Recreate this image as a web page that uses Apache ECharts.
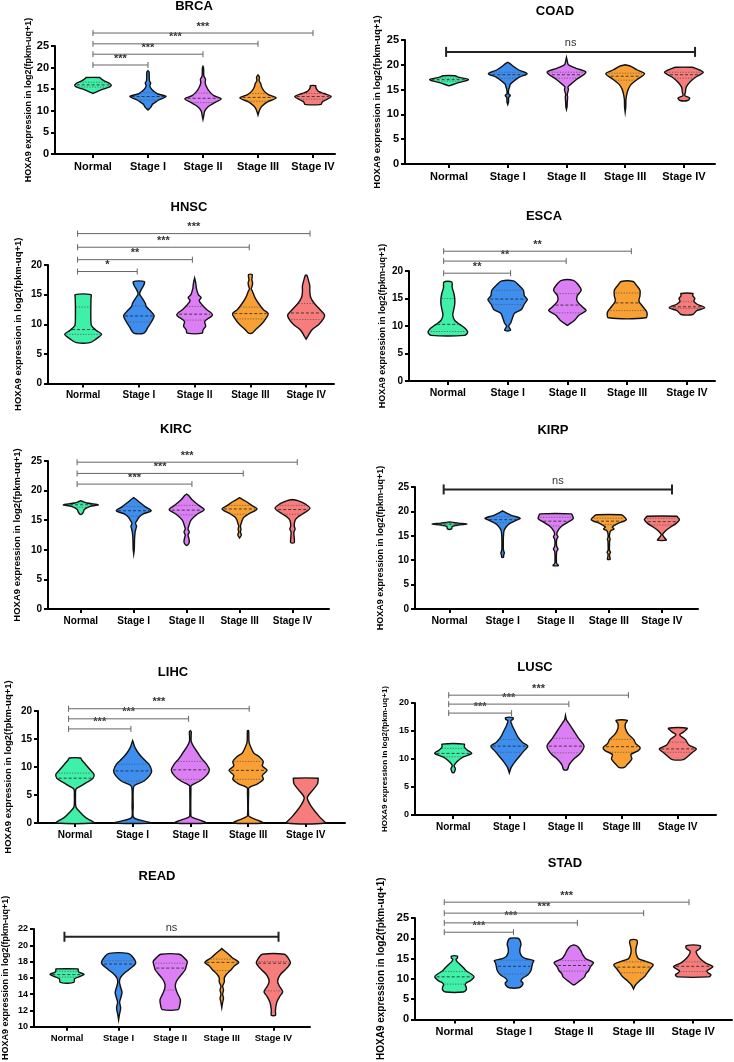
<!DOCTYPE html>
<html>
<head>
<meta charset="utf-8">
<script src="https://cdn.jsdelivr.net/npm/echarts@6/dist/echarts.min.js"></script>
<style>
html, body { margin: 0; padding: 0; background: #fff; }
#main { width: 734px; height: 1062px; }
</style>
</head>
<body>
<div id="main"></div>
<script>
const categories = ['Normal', 'Stage I', 'Stage II', 'Stage III', 'Stage IV'];
const groupColors = ['#3ef0a8', '#3e8ef0', '#dc7ef4', '#f8a034', '#f77c7c'];

// violin profiles: [value, relative half width] bottom -> top, one per group
const brcaViolins = [
  [[14,0],[14.4,0.2],[15,0.55],[15.6,0.95],[16,1],[16.5,0.85],[17,0.6],[17.5,0.42],[17.7,0.38]],
  [[10.2,0],[10.8,0.15],[11.5,0.25],[11.8,0.35],[12.5,0.6],[13.3,1],[14,0.5],[15,0.2],[15.8,0.1],[16.4,0.15],[17,0.08],[18,0.07],[19,0.06],[19.3,0]],
  [[8,0],[9,0.05],[10,0.1],[11,0.3],[12,0.7],[12.8,1],[13.5,0.6],[14.5,0.35],[15.5,0.2],[16.5,0.12],[17.3,0.14],[18,0.05],[19,0.04],[20,0.03],[20.3,0]],
  [[9,0],[9.6,0.04],[10.3,0.1],[11,0.2],[12,0.5],[13,1],[13.7,0.6],[14.5,0.35],[15.5,0.2],[16.3,0.15],[17,0.06],[17.8,0.08],[18.3,0]],
  [[11.5,0.45],[12,0.5],[12.5,0.7],[13.3,1],[14,0.6],[14.5,0.3],[15,0.2],[15.5,0.15],[15.8,0.15]]
];
const brcaQuartiles = [[15.5,16,16.6],[12.5,13.3,14.2],[11.9,12.9,14.1],[12.2,13.1,14],[12.7,13.3,14]];
const brcaSig = [[0,1,20.6,'***'],[0,2,23.1,'***'],[0,3,25.5,'***'],[0,4,28,'***']];

const coadViolins = [
  [[15.8,0.05],[16.3,0.4],[17,1],[17.5,0.5],[17.8,0.3]],
  [[12,0],[12.5,0.04],[13.4,0.05],[13.8,0.13],[14.2,0.04],[15,0.05],[15.6,0.1],[16,0.12],[16.5,0.25],[17.5,0.6],[18.2,1],[19,0.55],[19.8,0.25],[20.3,0.1],[20.5,0]],
  [[11,0],[11.5,0.03],[12.5,0.04],[13.5,0.06],[14,0.04],[15,0.1],[15.5,0.08],[16,0.2],[17,0.5],[18.5,1],[19.3,0.5],[20,0.1],[21,0.03],[21.5,0]],
  [[10.5,0],[11.5,0.03],[13,0.04],[14,0.08],[15,0.15],[16,0.3],[17,0.6],[18.2,1],[19,0.6],[19.7,0.3],[20,0]],
  [[12.8,0.2],[13.3,0.3],[13.8,0.05],[14.5,0.08],[15.5,0.12],[16.5,0.3],[17.5,0.6],[18.5,1],[19.3,0.6],[19.5,0.4]]
];
const coadQuartiles = [[16.7,17,17.3],[17.3,18,18.5],[17.3,18,18.5],[16.9,17.7,18.3],[17.3,18,18.5]];
const coadSig = [[-0.05,4.19,22.6,'ns']];

const hnscViolins = [
  [[6.9,0.37],[7.5,0.7],[8.3,1],[9,0.7],[9.8,0.45],[11,0.42],[13,0.42],[14.5,0.43],[15,0.43]],
  [[8.5,0.28],[9.5,0.5],[10.5,0.7],[11.4,0.83],[12,0.7],[13,0.4],[13.5,0.35],[14.3,0.2],[15,0.05],[15.3,0.05],[15.8,0.12],[16.5,0.25],[17.2,0.3]],
  [[8.5,0.42],[9,0.45],[9.7,0.6],[10.5,0.55],[11.6,0.97],[12.5,0.65],[13.3,0.4],[14,0.25],[14.5,0.35],[15,0.2],[16,0.1],[17,0.06],[17.8,0]],
  [[8.5,0.1],[9,0.25],[10,0.6],[11,0.85],[11.8,0.97],[12.5,0.7],[13.5,0.45],[14.5,0.25],[15.5,0.12],[16,0.05],[16.5,0.1],[17,0.12],[17.5,0.08],[18,0.1],[18.4,0.1]],
  [[7.5,0],[8,0.1],[9,0.3],[10,0.7],[11,0.95],[11.6,1],[12.5,0.75],[13.5,0.45],[14.5,0.25],[15.5,0.2],[16.5,0.2],[17.5,0.12],[18.2,0.05],[18.3,0]]
];
const hnscQuartiles = [[8.3,9.1,12.9],[10.4,11.4,13.1],[10.7,11.7,13],[10.9,11.8,12.9],[10.8,11.9,13.5]];
const hnscSig = [[-0.1,0.97,18.9,'*'],[-0.1,1.96,20.9,'**'],[-0.1,2.98,23,'***'],[-0.1,4.07,25.3,'***']];

const escaViolins = [
  [[8.3,0.85],[8.8,1],[9.5,0.9],[10.3,0.6],[11,0.35],[12,0.25],[13,0.3],[14,0.35],[15,0.35],[16,0.3],[17,0.22],[18,0.2]],
  [[9.2,0.15],[10,0.05],[10.5,0.15],[11.5,0.25],[12.3,0.35],[13,0.7],[14,0.85],[14.8,1],[15.5,0.85],[16.5,0.8],[17.5,0.55],[18.2,0.3]],
  [[10.1,0],[11,0.35],[12,0.6],[12.8,0.95],[13.5,0.75],[14.5,0.5],[15.5,0.5],[16.5,0.7],[17.5,0.55],[18.3,0.3]],
  [[11.5,0.95],[12.5,1],[13.5,0.8],[14.5,0.6],[15.5,0.65],[16.5,0.65],[17.5,0.45],[18.1,0.3]],
  [[12.1,0.3],[12.8,0.5],[13.3,0.9],[14,0.5],[14.5,0.35],[15,0.4],[15.5,0.3],[15.9,0.3]]
];
const escaQuartiles = [[9,10.3,15],[13.9,14.9,16.5],[12.4,13.8,15.9],[12.8,14.2,16],[13.2,13.5,14.4]];
const escaSig = [[-0.07,1.05,19.6,'**'],[-0.07,1.98,21.8,'**'],[-0.07,3.07,23.6,'**']];

const kircViolins = [
  [[16,0.05],[16.4,0.15],[16.8,0.2],[17.3,0.5],[17.6,1],[17.9,0.35],[18.2,0.08],[18.3,0]],
  [[9.3,0],[10,0.03],[11,0.04],[12,0.05],[13,0.08],[13.5,0.12],[14,0.16],[14.5,0.1],[15,0.2],[15.5,0.3],[16,0.5],[16.6,1],[17.3,0.65],[18,0.35],[18.5,0.15],[18.8,0]],
  [[10.8,0.05],[11.3,0.15],[12,0.12],[12.5,0.08],[13,0.15],[13.5,0.08],[14,0.12],[15,0.25],[16,0.6],[16.8,1],[17.5,0.7],[18.5,0.3],[19.2,0.1],[19.4,0]],
  [[12,0],[12.5,0.1],[13,0.05],[13.5,0.08],[14,0.05],[14.5,0.1],[15,0.15],[15.5,0.25],[16,0.5],[16.9,1],[17.5,0.7],[18.2,0.35],[18.8,0]],
  [[11.2,0.1],[12,0.1],[13,0.08],[13.5,0.15],[14,0.1],[15,0.15],[15.5,0.3],[16,0.55],[17,1],[17.7,0.75],[18.3,0.3],[18.5,0]]
];
const kircQuartiles = [[17.2,17.6,17.9],[15.7,16.6,17.3],[15.9,16.7,17.5],[16,16.9,17.5],[16,16.8,17.5]];
const kircSig = [[-0.07,2.1,21.1,'***'],[-0.07,3.07,22.9,'***'],[-0.07,4.09,24.8,'***']];

const kirpViolins = [
  [[16.4,0.12],[16.9,0.15],[17.2,0.5],[17.4,1],[17.6,0.5],[17.8,0.1]],
  [[10.6,0.05],[11,0.06],[11.5,0.1],[12,0.05],[13,0.04],[14,0.04],[15,0.05],[16,0.08],[16.8,0.2],[17.5,0.4],[18.2,0.8],[18.6,1],[19.2,0.5],[19.8,0.15],[20.1,0]],
  [[8.9,0.15],[9.4,0.05],[10,0.04],[11,0.04],[11.8,0.06],[12.3,0.13],[12.8,0.06],[13.5,0.04],[14.3,0.06],[14.8,0.13],[15.3,0.06],[16,0.12],[17,0.35],[17.8,0.7],[18.5,1],[19.2,0.95],[19.5,0.9]],
  [[10.2,0.08],[10.7,0.05],[11.3,0.05],[11.6,0.1],[12,0.04],[13,0.04],[14,0.05],[14.3,0.08],[14.7,0.04],[15.5,0.05],[16,0.1],[16.4,0.3],[16.8,0.2],[17.5,0.5],[18.3,1],[19,0.85],[19.3,0.7]],
  [[14.1,0.25],[14.6,0.15],[15.2,0.04],[15.5,0.08],[16,0.2],[16.8,0.5],[17.5,0.8],[18.3,1],[18.8,0.9],[19,0.85]]
];
const kirpQuartiles = [[17.2,17.4,17.6],[17.7,18.3,18.9],[17,18,18.8],[17.3,18,18.6],[17.2,17.9,18.6]];
const kirpSig = [[-0.11,4.19,24.5,'ns']];

const lihcViolins = [
  [[0,1],[0.5,0.8],[1,0.55],[2,0.25],[2.8,0.06],[3.5,0.03],[5,0.03],[6,0.05],[6.5,0.25],[7.2,0.6],[8,0.95],[8.7,1],[9.5,0.8],[10.5,0.55],[11.3,0.35],[11.6,0.3]],
  [[0,0.95],[0.5,0.4],[1,0.05],[3,0.03],[6,0.03],[6.7,0.1],[7.5,0.6],[8.5,0.9],[9.3,1],[10.5,0.85],[11.5,0.55],[12.5,0.3],[13.5,0.12],[14.2,0.05],[14.7,0]],
  [[0,0.85],[0.5,0.5],[1,0.1],[1.3,0.03],[6,0.03],[6.7,0.05],[7.5,0.5],[8.5,0.85],[9.5,1],[10.5,0.85],[11.5,0.6],[12.5,0.4],[13.5,0.2],[14.5,0.05],[15.5,0.04],[16.3,0.05],[16.5,0]],
  [[0,0.8],[0.5,0.5],[1,0.15],[1.3,0.03],[5.5,0.03],[6.3,0.05],[7,0.5],[7.8,0.8],[8.5,0.75],[9.4,1],[10.2,0.75],[11,0.8],[11.8,0.6],[12.5,0.3],[13.5,0.15],[14.5,0.05],[16.5,0.03]],
  [[0,1],[1,0.75],[2,0.5],[3,0.28],[4,0.12],[4.5,0.08],[5,0.15],[6,0.4],[7,0.62],[7.8,0.65],[8,0.65]]
];
const lihcQuartiles = [[null,8,8.9],[7.5,9.3,10.5],[7.8,9.5,11],[7.8,9.4,11],null];
const lihcSig = [[-0.11,0.97,16.8,'***'],[-0.11,1.97,18.6,'***'],[-0.11,3.02,20.4,'***']];

const luscViolins = [
  [[7.6,0.05],[8,0.1],[8.3,0.12],[8.8,0.05],[9.5,0.2],[10.3,0.5],[11,1],[11.6,0.75],[12.2,0.6],[12.65,0.6]],
  [[7.5,0],[8.5,0.1],[9.5,0.3],[10.5,0.55],[11.5,0.8],[12.3,1],[13,0.7],[14,0.45],[15,0.3],[16,0.15],[16.8,0.08],[17.1,0.2],[17.4,0.2]],
  [[8.1,0.1],[9,0.2],[10,0.45],[11,0.8],[12.3,1],[13.5,0.75],[14.5,0.55],[15.5,0.35],[16.5,0.15],[17,0.05],[17.8,0]],
  [[8.5,0.15],[9,0.3],[10,0.55],[10.8,0.5],[11.5,0.9],[12,1],[12.8,0.75],[13.5,0.65],[14.5,0.35],[15.5,0.2],[16.3,0.2],[16.9,0.3]],
  [[9.9,0.3],[10.5,0.55],[11.2,0.8],[11.8,1],[12.5,0.6],[13.5,0.4],[14.3,0.1],[14.8,0.3],[15.5,0.5]]
];
const luscQuartiles = [[10.4,11,11.9],[11.2,12.3,13.5],[11.1,12.3,13.7],[11.2,12.2,13.5],[11.2,11.8,13]];
const luscSig = [[-0.08,1.04,18.2,'***'],[-0.08,2.06,19.8,'***'],[-0.08,3.12,21.4,'***']];

const readViolins = [
  [[15.45,0.4],[15.9,0.45],[16.2,0.8],[16.45,1],[16.7,0.7],[17,0.65],[17.1,0.65]],
  [[10.85,0],[11.5,0.05],[12.3,0.12],[13,0.06],[13.5,0.12],[14.2,0.2],[15,0.1],[15.5,0.05],[16,0.1],[16.5,0.3],[17,0.6],[17.8,1],[18.5,0.85],[19,0.55]],
  [[12.1,0.47],[12.5,0.55],[13.3,0.6],[14,0.45],[14.5,0.35],[15,0.3],[15.5,0.35],[16,0.5],[16.5,0.7],[17,0.88],[17.5,0.95],[18,1],[18.5,0.8],[18.9,0.55]],
  [[12.35,0],[13,0.05],[13.5,0.1],[14,0.05],[14.5,0.1],[15,0.05],[15.5,0.15],[16,0.15],[16.5,0.3],[17,0.55],[17.5,0.75],[17.9,1],[18.5,0.6],[19,0.35],[19.5,0.05],[19.6,0]],
  [[11.4,0.12],[12,0.12],[13,0.2],[13.8,0.4],[14.3,0.55],[15,0.35],[15.5,0.25],[16,0.3],[16.5,0.45],[17,0.7],[17.8,1],[18.5,0.85],[18.9,0.65]]
];
const readQuartiles = [[16.1,16.4,16.8],[15.9,17.7,18.1],[14.5,17.2,17.8],[16.9,17.9,18.3],[14.4,17.8,18.0]];
const readSig = [[-0.05,4.1,21.05,'ns']];

const stadViolins = [
  [[6.75,0.45],[7.3,0.6],[8,0.6],[8.5,0.55],[9,0.6],[9.5,0.8],[10.5,1],[11.2,0.85],[12,0.6],[12.8,0.45],[13.5,0.3],[14.2,0.15],[14.8,0.08],[15.1,0.15],[15.6,0.15]],
  [[7.8,0.25],[8.3,0.4],[9,0.45],[9.5,0.35],[10.2,0.45],[11,0.7],[12,0.85],[13,0.9],[14,0.95],[14.5,1],[15,0.6],[15.5,0.4],[16.5,0.3],[17.5,0.3],[18.5,0.35],[19.5,0.3],[20,0.2]],
  [[8.6,0.05],[9.5,0.3],[10.5,0.55],[11.2,0.6],[12,0.75],[13,0.85],[14,1],[15,0.6],[16,0.45],[17,0.35],[18,0.2],[18.3,0.05]],
  [[7.5,0],[8.5,0.1],[9.5,0.3],[10.5,0.55],[11.5,0.7],[12.5,0.85],[13.5,1],[14.2,0.7],[15,0.25],[16,0.15],[17,0.12],[18,0.15],[19,0.2],[19.6,0.15]],
  [[10.5,0.8],[11,0.9],[11.5,0.75],[12,0.7],[13,1],[14,0.6],[15,0.35],[16,0.2],[16.8,0.15],[17.5,0.35],[18.2,0.35]]
];
const stadQuartiles = [[8.7,10.5,11.8],[11.2,13.1,14.6],[11.9,13.3,14.5],[11.5,12.9,14.2],[11.8,13.1,14.2]];
const stadSig = [[-0.17,0.99,21.5,'***'],[-0.17,2.06,23.8,'***'],[-0.17,3.17,26.2,'***'],[-0.17,3.93,28.9,'***']];

// layout per panel: grid [left, top, width, height], x range, y [min, max, interval]
const panels = [
  { name: 'BRCA', violins: brcaViolins, quart: brcaQuartiles, sig: brcaSig, bold: false,
    grid: [55, 46, 280, 108], x: [-0.69, 4.4], y: [0, 25, 5], title: [194, 6], tick: 11, cat: 11, nameSize: 9, nameGap: 20 },
  { name: 'COAD', violins: coadViolins, quart: coadQuartiles, sig: coadSig, bold: true,
    grid: [405, 40, 310, 124], x: [-0.75, 4.53], y: [0, 25, 5], title: [555, 11], tick: 11, cat: 11, nameSize: 9.5, nameGap: 21 },
  { name: 'HNSC', violins: hnscViolins, quart: hnscQuartiles, sig: hnscSig, bold: false,
    grid: [48, 265, 286, 118.5], x: [-0.63, 4.5], y: [0, 20, 5], title: [189, 207], tick: 10, cat: 10, nameSize: 9.5, nameGap: 25 },
  { name: 'ESCA', violins: escaViolins, quart: escaQuartiles, sig: escaSig, bold: false,
    grid: [409, 271, 306, 110], x: [-0.65, 4.47], y: [0, 20, 5], title: [544, 216], tick: 10, cat: 10.5, nameSize: 9, nameGap: 22 },
  { name: 'KIRC', violins: kircViolins, quart: kircQuartiles, sig: kircSig, bold: false,
    grid: [48, 461, 281, 148], x: [-0.62, 4.69], y: [0, 25, 5], title: [176, 429], tick: 10, cat: 10, nameSize: 9.5, nameGap: 26 },
  { name: 'KIRP', violins: kirpViolins, quart: kirpQuartiles, sig: kirpSig, bold: true,
    grid: [415, 487, 283, 122], x: [-0.65, 4.68], y: [0, 25, 5], title: [553, 430], tick: 10, cat: 10.5, nameSize: 9, nameGap: 30 },
  { name: 'LIHC', violins: lihcViolins, quart: lihcQuartiles, sig: lihcSig, bold: false,
    grid: [38, 711, 307, 112], x: [-0.64, 4.68], y: [0, 20, 5], title: [173, 672], tick: 10, cat: 10, nameSize: 9.5, nameGap: 25 },
  { name: 'LUSC', violins: luscViolins, quart: luscQuartiles, sig: luscSig, bold: false,
    grid: [415, 703, 301, 112], x: [-0.68, 4.68], y: [0, 20, 5], title: [535, 667], tick: 9, cat: 10, nameSize: 8, nameGap: 26 },
  { name: 'READ', violins: readViolins, quart: readQuartiles, sig: readSig, bold: true,
    grid: [33, 929, 277, 114], x: [-0.64, 4.71], y: [10, 22, 2], title: [157, 876], tick: 9, cat: 9.5, nameSize: 9, nameGap: 24 },
  { name: 'STAD', violins: stadViolins, quart: stadQuartiles, sig: stadSig, bold: false,
    grid: [415, 918, 317, 123], x: [-0.66, 4.65], y: [0, 25, 5], title: [565, 863], tick: 11, cat: 11, nameSize: 10, nameGap: 29 }
];

const HALF = 0.33; // max half width in category units
const FONT = '"Liberation Sans", Arial, sans-serif';

function widthAt(prof, v) {
  for (let i = 1; i < prof.length; i++) {
    if (v <= prof[i][0]) {
      const a = prof[i - 1], b = prof[i];
      const t = (v - a[0]) / (b[0] - a[0] || 1);
      return a[1] + (b[1] - a[1]) * t;
    }
  }
  return prof[prof.length - 1][1];
}

function violinItem(p) {
  return function (params, api) {
    const g = params.dataIndex;
    const prof = p.violins[g];
    const right = [], left = [];
    prof.forEach(function (pt) {
      right.push(api.coord([g + pt[1] * HALF, pt[0]]));
      left.unshift(api.coord([g - pt[1] * HALF, pt[0]]));
    });
    const children = [{
      type: 'polygon',
      shape: { points: right.concat(left), smooth: 0.3 },
      style: { fill: groupColors[g], stroke: '#111', lineWidth: 1.4 }
    }];
    const q = p.quart[g];
    if (q) {
      q.forEach(function (v, k) {
        if (v == null) return;
        const w = widthAt(prof, v) * HALF * 0.9;
        const a = api.coord([g - w, v]), b = api.coord([g + w, v]);
        children.push({
          type: 'line',
          shape: { x1: a[0], y1: a[1], x2: b[0], y2: b[1] },
          style: { stroke: k === 1 ? '#222' : '#555', lineWidth: 0.8, lineDash: k === 1 ? [3, 2] : [1.2, 1.5] }
        });
      });
    }
    return { type: 'group', children: children };
  };
}

function sigItem(p) {
  const color = p.bold ? '#222' : '#666';
  const lw = p.bold ? 2 : 1;
  const cap = p.bold ? 5 : 3;
  return function (params, api) {
    const s = p.sig[params.dataIndex];
    const a = api.coord([s[0], s[2]]);
    const b = api.coord([s[1], s[2]]);
    const st = { stroke: color, lineWidth: lw };
    return {
      type: 'group',
      children: [
        { type: 'line', shape: { x1: a[0], y1: a[1], x2: b[0], y2: b[1] }, style: st },
        { type: 'line', shape: { x1: a[0], y1: a[1] - cap, x2: a[0], y2: a[1] + cap }, style: st },
        { type: 'line', shape: { x1: b[0], y1: b[1] - cap, x2: b[0], y2: b[1] + cap }, style: st },
        {
          type: 'text',
          style: {
            text: s[3], x: (a[0] + b[0]) / 2, y: a[1] - (s[3] === 'ns' ? 3 : 1),
            align: 'center', verticalAlign: 'bottom',
            font: (s[3] === 'ns' ? 'normal 11px ' : 'bold 11px ') + FONT,
            fill: s[3] === 'ns' ? '#333' : '#333'
          }
        }
      ]
    };
  };
}

const option = { animation: false, grid: [], xAxis: [], yAxis: [], series: [], graphic: [] };

panels.forEach(function (p, i) {
  option.grid.push({ left: p.grid[0], top: p.grid[1], width: p.grid[2], height: p.grid[3] });
  option.xAxis.push({
    gridIndex: i, type: 'value', min: p.x[0], max: p.x[1],
    axisLine: { show: true, onZero: false, lineStyle: { color: '#000', width: 2 } },
    axisTick: { show: true, customValues: [0, 1, 2, 3, 4], length: 4, lineStyle: { color: '#000', width: 2 } },
    axisLabel: {
      customValues: [0, 1, 2, 3, 4], margin: 7,
      formatter: function (v) { return categories[Math.round(v)]; },
      color: '#000', fontWeight: 'bold', fontSize: p.cat, fontFamily: FONT
    },
    splitLine: { show: false }
  });
  option.yAxis.push({
    gridIndex: i, type: 'value', min: p.y[0], max: p.y[1], interval: p.y[2],
    name: 'HOXA9 expression in log2(fpkm-uq+1)', nameLocation: 'middle', nameGap: p.nameGap,
    nameTextStyle: { color: '#000', fontWeight: 'bold', fontSize: p.nameSize, fontFamily: FONT },
    axisLine: { show: true, onZero: false, lineStyle: { color: '#000', width: 2 } },
    axisTick: { show: true, length: 4, lineStyle: { color: '#000', width: 2 } },
    axisLabel: { color: '#000', fontWeight: 'bold', fontSize: p.tick, fontFamily: FONT, margin: 6 },
    splitLine: { show: false }
  });
  option.series.push({
    type: 'custom', xAxisIndex: i, yAxisIndex: i, clip: false, silent: true,
    renderItem: violinItem(p),
    encode: { x: 0, y: 1 },
    data: p.violins.map(function (v, g) { return [g, v[0][0]]; })
  });
  option.series.push({
    type: 'custom', xAxisIndex: i, yAxisIndex: i, clip: false, silent: true,
    renderItem: sigItem(p),
    encode: { x: [0, 1], y: 2 },
    data: p.sig.map(function (s) { return [s[0], s[1], s[2]]; })
  });
  option.graphic.push({
    type: 'text', x: p.title[0], y: p.title[1],
    style: { text: p.name, align: 'center', verticalAlign: 'middle', font: 'bold 13px ' + FONT, fill: '#000' }
  });
});

const chart = echarts.init(document.getElementById('main'));
chart.setOption(option);
</script>
</body>
</html>
